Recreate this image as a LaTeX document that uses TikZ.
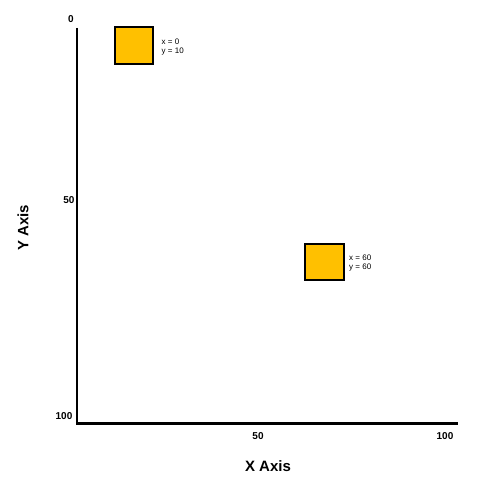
\documentclass[tikz,border=0pt]{standalone}
\usepackage{fontspec}
\setmainfont{Liberation Sans}
\definecolor{boxfill}{HTML}{FFC000}
\begin{document}
\begin{tikzpicture}[x=1pt,y=-1pt,
  axis/.style={line width=2.2pt},
  square/.style={draw=black,line width=2pt,fill=boxfill},
  tick/.style={font=\bfseries\fontsize{10}{10}\selectfont,inner sep=0pt},
  coord/.style={font=\fontsize{8}{9.5}\selectfont,align=left,anchor=west,inner sep=0pt},
  title/.style={font=\bfseries\fontsize{15}{16}\selectfont,inner sep=0pt}]
\useasboundingbox (0,0) rectangle (478,486);
\coordinate (top) at (77,28);
\coordinate (origin) at (77,423.5);
\coordinate (xend) at (458,423.5);
\draw[axis] (top) -- (origin) -- (xend);
\node[tick] (y0) at (71,19) {0};
\node[tick] (y50) at (69,200) {50};
\node[tick] (y100) at (64,416) {100};
\node[tick] (x50) at (258,436) {50};
\node[tick] (x100) at (445,436) {100};
\node[title] (xlab) at (268,466) {X Axis};
\node[title,rotate=90] (ylab) at (23,228) {Y Axis};
\node[square,minimum width=38pt,minimum height=37pt,inner sep=0pt] (b1) at (133.5,45.8) {};
\node[coord] (t1) at (161.5,47) {x = 0\\y = 10};
\node[square,minimum width=39pt,minimum height=36pt,inner sep=0pt] (b2) at (324,261.7) {};
\node[coord] (t2) at (349,263) {x = 60\\y = 60};
\end{tikzpicture}
\end{document}
